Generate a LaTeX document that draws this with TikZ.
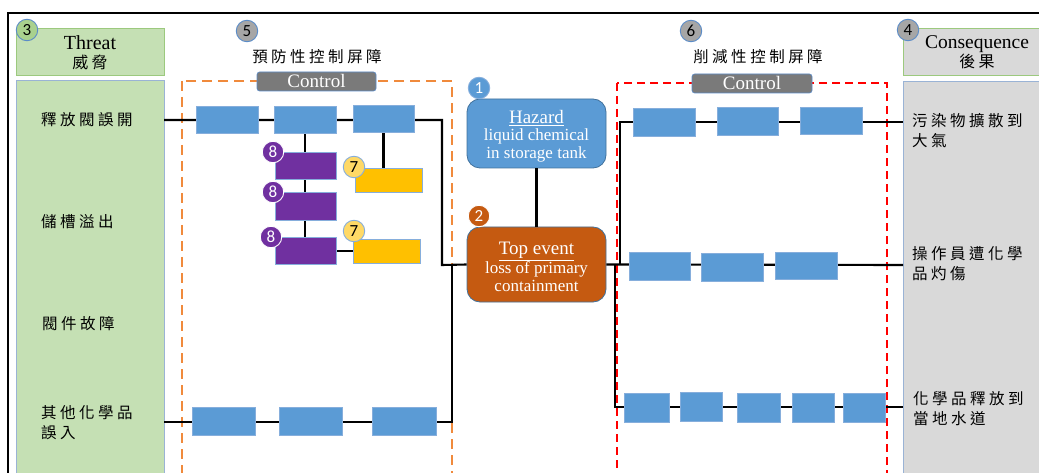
\documentclass[tikz,border=0pt]{standalone}
\usepackage{fontspec}
\setmainfont{Liberation Serif}
\newfontfamily\cjk{Noto Sans CJK TC}
\newfontfamily\numfont{Carlito}
\usetikzlibrary{calc}
\newcommand\cjkspaced[1]{\cjkspB#1\relax}
\def\cjkspB#1{#1\cjkspA}
\def\cjkspA#1{\ifx#1\relax\else\kern3.5pt#1\expandafter\cjkspA\fi}
\definecolor{bboxc}{HTML}{5B9BD5}
\definecolor{bborder}{HTML}{86AEDC}
\definecolor{purp}{HTML}{7030A0}
\definecolor{yel}{HTML}{FFC000}
\definecolor{yelc}{HTML}{FFD966}
\definecolor{orgc}{HTML}{C55A11}
\definecolor{ctrl}{HTML}{7A7A7A}
\definecolor{grn}{HTML}{C5E0B4}
\definecolor{grnb}{HTML}{9CC97E}
\definecolor{grnc}{HTML}{A9D18E}
\definecolor{colb}{HTML}{9AB3D5}
\definecolor{gry}{HTML}{D9D9D9}
\definecolor{gcirc}{HTML}{A6A6A6}
\definecolor{dashor}{HTML}{F08A3C}
\definecolor{circb}{HTML}{5B8CC8}
\definecolor{shapeb}{HTML}{41719C}
\begin{document}
\begin{tikzpicture}[x=1pt,y=-1pt,
  wire/.style={line width=2.1pt, black},
  bbox/.style={rectangle, fill=bboxc, draw=bborder, line width=0.8pt, inner sep=0pt},
  pbox/.style={rectangle, fill=purp, draw=bborder, line width=0.8pt, inner sep=0pt},
  ybox/.style={rectangle, fill=yel, draw=bborder, line width=0.8pt, inner sep=0pt},
  circ/.style={circle, inner sep=0pt, minimum size=21.5pt, draw=circb, line width=0.9pt, font=\numfont\fontsize{17}{17}\selectfont},
  ctrlbox/.style={rectangle, rounded corners=2.5pt, fill=ctrl, draw=circb, line width=0.6pt, text=white, inner sep=0pt, minimum height=19pt, font=\fontsize{19}{19}\selectfont},
  cjktext/.style={inner sep=0pt, align=left, font=\cjk\fontsize{15.5}{20}\selectfont},
  bigbox/.style={rectangle, rounded corners=13pt, draw=shapeb, line width=0.8pt, inner sep=0pt, minimum width=139pt},
  bigtext/.style={inner sep=0pt, align=center, text=white, font=\fontsize{17}{17.5}\selectfont},
  ordash/.style={draw=dashor, line width=2.4pt, dash pattern=on 10pt off 6pt},
  reddash/.style={draw=red, line width=2.4pt, dash pattern=on 8pt off 5pt}
]
\useasboundingbox (0,0) rectangle (1039,473);
% frame
\draw[line width=2pt] (8,480) -- (8,13) -- (1045,13);
% columns and headers
\node[rectangle, fill=grn, draw=grnb, line width=1pt, minimum width=148pt, minimum height=47pt, inner sep=0pt, align=center, font=\fontsize{20}{20}\selectfont] (threat) at (90,52.5) {Threat\\[-1pt]{\cjk\fontsize{16}{16}\selectfont\cjkspaced{威脅}}};
\filldraw[fill=grn, draw=colb, line width=1pt] (16,81) rectangle (164,480);
\node[rectangle, fill=gry, draw=grnb, line width=1pt, minimum width=148pt, minimum height=47pt, inner sep=0pt, align=center, font=\fontsize{19.5}{20}\selectfont] (cons) at (977,52.5) {Consequence\\[-1pt]{\cjk\fontsize{16}{16}\selectfont\cjkspaced{後果}}};
\filldraw[fill=gry, draw=colb, line width=1pt] (903,82) rectangle (1050,480);
% dashed barrier areas
\draw[ordash] (182,81) rectangle (452,490);
\draw[reddash] (617,83) rectangle (887,490);
% titles
\node[cjktext] (tpre) at (317,57) {\cjkspaced{預防性控制屏障}};
\node[cjktext] (tmit) at (758,57) {\cjkspaced{削減性控制屏障}};
\node[ctrlbox, minimum width=119pt] (ctrlL) at (316.5,81.5) {Control};
\node[ctrlbox, minimum width=120pt] (ctrlR) at (752,83.5) {Control};
% hazard and top event
\node[bigbox, fill=bboxc, minimum height=69pt] (haz) at (536.5,133.5) {};
\node[bigtext] (haztext) at (536.5,136) {{\fontsize{19}{19}\selectfont\underline{Hazard}}\\liquid chemical\\in storage tank};
\node[bigbox, fill=orgc, minimum height=75pt] (top) at (536.5,264.5) {};
\node[bigtext] (toptext) at (536.5,267) {{\fontsize{19}{19}\selectfont\underline{Top event}}\\loss of primary\\containment};
% threat texts
\node[cjktext, anchor=west] (th1) at (41,120) {\cjkspaced{釋放閥誤開}};
\node[cjktext, anchor=west] (th2) at (41,222) {\cjkspaced{儲槽溢出}};
\node[cjktext, anchor=west] (th3) at (42,324) {\cjkspaced{閥件故障}};
\node[cjktext, anchor=west] (th4) at (41,423) {\cjkspaced{其他化學品}\\\cjkspaced{誤入}};
% consequence texts
\node[cjktext, anchor=west] (cq1) at (912,131) {\cjkspaced{污染物擴散到}\\\cjkspaced{大氣}};
\node[cjktext, anchor=west] (cq2) at (912,264) {\cjkspaced{操作員遭化學}\\\cjkspaced{品灼傷}};
\node[cjktext, anchor=west] (cq3) at (913,409) {\cjkspaced{化學品釋放到}\\\cjkspaced{當地水道}};
% coordinates
\coordinate (lin1) at (164,120);
\coordinate (lin4) at (164,422);
\coordinate (jl) at (442,265);
\coordinate (jl2) at (452,265);
\coordinate (jr) at (620,265);
\coordinate (jr2) at (615,265);
\coordinate (co1) at (903,122);
\coordinate (co2) at (903,265);
\coordinate (co3) at (903,407);
\coordinate (v2a) at (305,120);
\coordinate (v2b) at (305,251);
\coordinate (v3a) at (383.5,120);
\coordinate (v3b) at (383.5,170);
\coordinate (h7a) at (320,251);
\coordinate (h7b) at (370,251);
% wires (drawn before boxes)
\draw[wire] (haz.south) -- (top.north);
\draw[wire] (lin1) -| (jl) -- (top.west);
\draw[wire] (v2a) -- (v2b);
\draw[wire] (v3a) -- (v3b);
\draw[wire] (h7a) -- (h7b);
\draw[wire] (lin4) -| (jl2);
\draw[wire] (top.east) -- (co2);
\draw[wire] (jr) |- (co1);
\draw[wire] (jr2) |- (co3);
% left barrier boxes
\node[bbox, minimum width=62pt, minimum height=27pt] (lb1) at (227,120) {};
\node[bbox, minimum width=62pt, minimum height=27pt] (lb2) at (305,120) {};
\node[bbox, minimum width=61pt, minimum height=27pt] (lb3) at (383.5,119) {};
\node[pbox, minimum width=61pt, minimum height=27pt] (p1) at (305.5,165.5) {};
\node[pbox, minimum width=61pt, minimum height=28pt] (p2) at (305.5,206) {};
\node[pbox, minimum width=61pt, minimum height=27pt] (p3) at (305.5,250.5) {};
\node[ybox, minimum width=67pt, minimum height=24pt] (y1) at (388.5,180) {};
\node[ybox, minimum width=67pt, minimum height=24pt] (y2) at (386.5,251) {};
\node[bbox, minimum width=63pt, minimum height=28pt] (lc1) at (223.5,421.5) {};
\node[bbox, minimum width=63pt, minimum height=28pt] (lc2) at (310.5,421.5) {};
\node[bbox, minimum width=64pt, minimum height=28pt] (lc3) at (404,421) {};
% right barrier boxes
\node[bbox, minimum width=62pt, minimum height=28pt] (r11) at (664,122.5) {};
\node[bbox, minimum width=61pt, minimum height=28pt] (r12) at (747.5,121) {};
\node[bbox, minimum width=62pt, minimum height=27pt] (r13) at (831,120.5) {};
\node[bbox, minimum width=61pt, minimum height=28pt] (r21) at (659.5,266) {};
\node[bbox, minimum width=62pt, minimum height=28pt] (r22) at (732,267.5) {};
\node[bbox, minimum width=62pt, minimum height=27pt] (r23) at (806,265.5) {};
\node[bbox, minimum width=45pt, minimum height=29pt] (r31) at (646.5,407.5) {};
\node[bbox, minimum width=42pt, minimum height=29pt] (r32) at (701,407) {};
\node[bbox, minimum width=43pt, minimum height=29pt] (r33) at (758.5,408) {};
\node[bbox, minimum width=42pt, minimum height=29pt] (r34) at (813,408) {};
\node[bbox, minimum width=42pt, minimum height=29pt] (r35) at (864,407.5) {};
% numbered circles
\node[circ, fill=grnc] (c3) at (27,30) {3};
\node[circ, fill=gcirc] (c5) at (247,31) {5};
\node[circ, fill=gcirc] (c6) at (691,31) {6};
\node[circ, fill=gcirc] (c4) at (908,30) {4};
\node[circ, fill=bboxc, draw=bborder, text=white] (c1) at (479,88) {1};
\node[circ, fill=orgc, draw=white, text=white] (c2) at (479,216) {2};
\node[circ, fill=purp, draw=white, text=white] (c8a) at (273,152) {8};
\node[circ, fill=purp, draw=white, text=white] (c8b) at (273,192) {8};
\node[circ, fill=purp, draw=white, text=white] (c8c) at (271,237) {8};
\node[circ, fill=yelc, draw=bborder] (c7a) at (354,167) {7};
\node[circ, fill=yelc, draw=bborder] (c7b) at (354,231) {7};
\end{tikzpicture}
\end{document}
